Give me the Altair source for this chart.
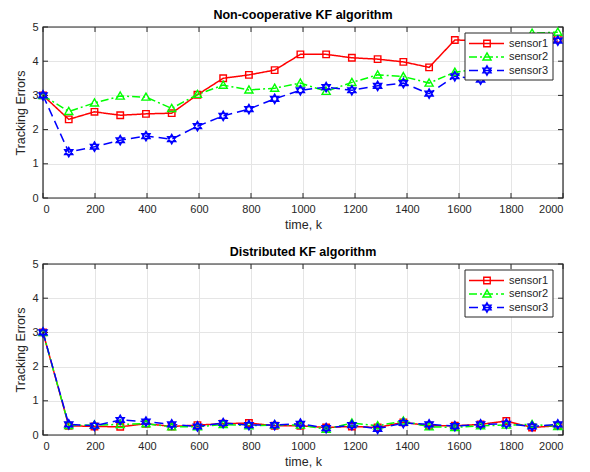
import altair as alt
import pandas as pd

# ---------------- data ----------------
sensors = ["sensor1", "sensor2", "sensor3"]
time_k = [0, 99, 198, 297, 396, 495, 594, 693, 792, 891, 990,
          1089, 1188, 1287, 1386, 1485, 1584, 1683, 1782, 1881, 1980]

nc_sensor1 = [3.00, 2.30, 2.52, 2.42, 2.46, 2.48, 3.02, 3.50, 3.60, 3.74, 4.20,
              4.20, 4.10, 4.06, 3.98, 3.82, 4.62, 4.60, 4.62, 4.62, 4.65]
nc_sensor2 = [3.00, 2.53, 2.78, 2.98, 2.95, 2.62, 3.03, 3.30, 3.16, 3.21, 3.36,
              3.12, 3.38, 3.60, 3.55, 3.36, 3.68, 3.78, 4.20, 4.82, 4.85]
nc_sensor3 = [3.00, 1.34, 1.50, 1.69, 1.81, 1.72, 2.10, 2.40, 2.60, 2.90, 3.15,
              3.24, 3.15, 3.28, 3.36, 3.05, 3.56, 3.46, 3.95, 4.30, 4.60]

d_sensor1 = [3.00, 0.27, 0.25, 0.24, 0.33, 0.25, 0.29, 0.33, 0.35, 0.27, 0.27,
             0.22, 0.25, 0.22, 0.37, 0.27, 0.27, 0.31, 0.41, 0.22, 0.27]
d_sensor2 = [3.00, 0.28, 0.29, 0.31, 0.33, 0.24, 0.24, 0.31, 0.27, 0.29, 0.29,
             0.17, 0.35, 0.27, 0.41, 0.24, 0.22, 0.27, 0.29, 0.31, 0.25]
d_sensor3 = [3.00, 0.31, 0.27, 0.44, 0.39, 0.31, 0.25, 0.35, 0.29, 0.29, 0.33,
             0.20, 0.29, 0.18, 0.35, 0.31, 0.26, 0.31, 0.33, 0.25, 0.31]

titles = ["Non-cooperative KF algorithm", "Distributed KF algorithm"]
x_ticks = [0, 200, 400, 600, 800, 1000, 1200, 1400, 1600, 1800, 2000]
y_ticks = [0, 1, 2, 3, 4, 5]

colors = ["#FF0000", "#00FF00", "#0000FF"]
dashes = [[1, 0], [8, 3, 2, 3], [9, 5]]
square = "M-1,-1H1V1H-1Z"
triangle = "M0,-1L1,0.75L-1,0.75Z"
hexagram = ("M0,-1L0.866,0.5L-0.866,0.5Z"
            "M0,1L0.866,-0.5L-0.866,-0.5Z")
shapes = [square, triangle, hexagram]
sizes = [42, 90, 100]

W, H = 520, 171
TICK = 5
AXC = "#262626"
FONT = "Liberation Sans"


def make_df(series):
    rows = []
    for name, vals in zip(sensors, series):
        for t, v in zip(time_k, vals):
            rows.append({"t": t, "err": v, "sensor": name})
    return pd.DataFrame(rows)


color_enc = alt.Color("sensor:N", scale=alt.Scale(domain=sensors, range=colors), legend=None)
dash_enc = alt.StrokeDash("sensor:N", scale=alt.Scale(domain=sensors, range=dashes), legend=None)
shape_enc = alt.Shape("sensor:N", scale=alt.Scale(domain=sensors, range=shapes), legend=None)
size_enc = alt.Size("sensor:N", scale=alt.Scale(domain=sensors, range=sizes), legend=None)

x_scale = alt.Scale(domain=[0, 2000], nice=False)
y_scale = alt.Scale(domain=[0, 5], nice=False)
x_axis = alt.Axis(values=x_ticks, title="time, k", format="d")
y_axis = alt.Axis(values=y_ticks, title="Tracking Errors")
xt_df = pd.DataFrame({"xt": x_ticks})
yt_df = pd.DataFrame({"yt": y_ticks})


def panel(series, title):
    df = make_df(series)
    x_enc = alt.X("t:Q", scale=x_scale, axis=x_axis)
    y_enc = alt.Y("err:Q", scale=y_scale, axis=y_axis)

    base = alt.Chart(df)
    lines = base.mark_line(strokeWidth=1.5).encode(
        x=x_enc, y=y_enc, color=color_enc, strokeDash=dash_enc, detail="sensor:N")
    points = base.mark_point(filled=False, strokeWidth=1.4, opacity=1).encode(
        x=x_enc, y=y_enc, color=color_enc, shape=shape_enc, size=size_enc)

    frame = alt.Chart(pd.DataFrame({"a": [0]})).mark_rect(
        fill="white", fillOpacity=0, stroke=AXC, strokeWidth=1.2, strokeOpacity=1
    ).encode(x=alt.value(0), x2=alt.value(W), y=alt.value(0), y2=alt.value(H))

    # inward tick marks on all four sides (Matlab box style)
    xt_enc = alt.X("xt:Q", scale=x_scale, axis=x_axis)
    yt_enc = alt.Y("yt:Q", scale=y_scale, axis=y_axis)
    tk_bottom = alt.Chart(xt_df).mark_rule(color=AXC, strokeWidth=1).encode(
        x=xt_enc, y=alt.value(H), y2=alt.value(H - TICK))
    tk_top = alt.Chart(xt_df).mark_rule(color=AXC, strokeWidth=1).encode(
        x=xt_enc, y=alt.value(0), y2=alt.value(TICK))
    tk_left = alt.Chart(yt_df).mark_rule(color=AXC, strokeWidth=1).encode(
        y=yt_enc, x=alt.value(0), x2=alt.value(TICK))
    tk_right = alt.Chart(yt_df).mark_rule(color=AXC, strokeWidth=1).encode(
        y=yt_enc, x=alt.value(W - TICK), x2=alt.value(W))

    data_layer = alt.layer(lines, tk_bottom, tk_top, tk_left, tk_right, frame, points)

    # legend drawn inside the plot (Matlab style)
    leg_df = pd.DataFrame({"sensor": sensors})
    leg_y = alt.Y("sensor:N", scale=alt.Scale(type="point", domain=sensors,
                                              range=[16.5, 43.5], padding=0),
                  axis=None)
    leg_box = alt.Chart(pd.DataFrame({"a": [0]})).mark_rect(
        fill="white", stroke=AXC, strokeWidth=1
    ).encode(x=alt.value(422), x2=alt.value(510), y=alt.value(6), y2=alt.value(53))
    leg_lines = alt.Chart(leg_df).mark_rule(strokeWidth=1.5).encode(
        x=alt.value(426), x2=alt.value(461), y=leg_y, color=color_enc, strokeDash=dash_enc)
    leg_pts = alt.Chart(leg_df).mark_point(filled=False, strokeWidth=1.4, opacity=1).encode(
        x=alt.value(444), y=leg_y, color=color_enc, shape=shape_enc, size=size_enc)
    leg_txt = alt.Chart(leg_df).mark_text(
        align="left", baseline="middle", font=FONT, fontSize=11, color=AXC
    ).encode(x=alt.value(466), y=leg_y, text="sensor:N")
    legend_layer = alt.layer(leg_box, leg_lines, leg_pts, leg_txt)

    return alt.layer(data_layer, legend_layer).resolve_scale(y="independent").properties(
        width=W, height=H,
        title=alt.TitleParams(title, font=FONT, fontSize=12.5, fontWeight="bold",
                              color="black", offset=0),
    )


top = panel([nc_sensor1, nc_sensor2, nc_sensor3], titles[0])
bottom = panel([d_sensor1, d_sensor2, d_sensor3], titles[1])

chart = alt.vconcat(top, bottom, spacing=14).properties(
    padding={"left": 6, "top": 0, "right": 5, "bottom": 0}
).configure_axis(
    grid=True, gridColor="#E5E5E5", gridWidth=1,
    domain=False, ticks=False, tickSize=0,
    labelFont=FONT, labelFontSize=11, labelColor=AXC, labelPadding=5,
    titleFont=FONT, titleFontSize=12.5, titleFontWeight="normal", titleColor=AXC,
    titlePadding=4,
).configure_view(stroke=None).configure_concat(spacing=14)

chart.save("out.html", embed_options={"renderer": "svg", "actions": False})
